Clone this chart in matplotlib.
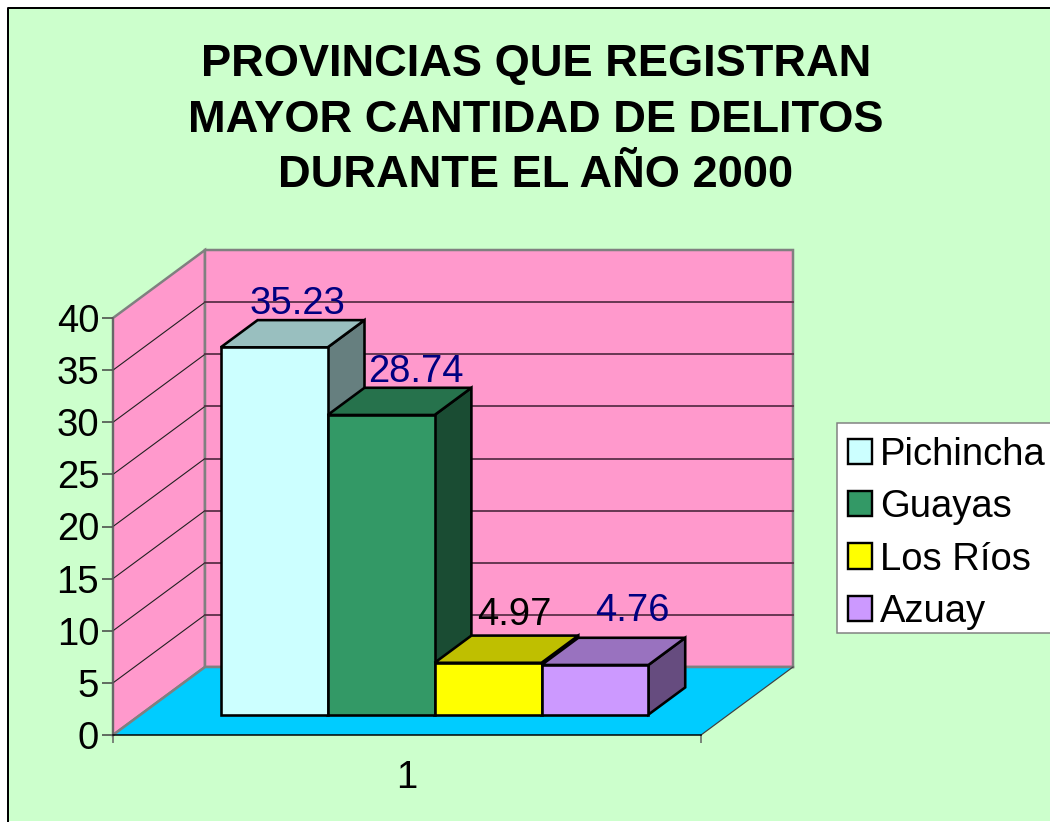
#!/usr/bin/env python3
"""Provincias con mas delitos en el 2000, 3D style column chart drawn by hand."""

import matplotlib
matplotlib.use("Agg")
import matplotlib.pyplot as plt
from matplotlib.lines import Line2D
from matplotlib.patches import Patch, Polygon, Rectangle

PROVINCES = ["Pichincha", "Guayas", "Los Ríos", "Azuay"]
VALUES = [35.23, 28.74, 4.97, 4.76]
VALUE_LABELS = ["35.23", "28.74", "4.97", "4.76"]
Y_TICKS = [0, 5, 10, 15, 20, 25, 30, 35, 40]
CATEGORY_LABEL = "1"
TITLE = "PROVINCIAS QUE REGISTRAN\nMAYOR CANTIDAD DE DELITOS\nDURANTE EL AÑO 2000"

FRONT = ["#CCFFFF", "#339966", "#FFFF00", "#CC99FF"]
TOP = ["#99BFBF", "#26724C", "#BFBF00", "#9972BF"]
SIDE = ["#667F7F", "#1A4C33", "#7F7F00", "#664C7F"]
LABEL_COLORS = ["#000080", "#000080", "#000000", "#000080"]
# pixels from the middle of each bar's top face, labels were moved by hand in the original
LABEL_OFFSETS = [(5, 30), (16, 29), (8, 34), (19, 40)]

BG = "#CCFFCC"
WALL = "#FF99CC"
FLOOR = "#00CCFF"
WALL_EDGE = "#808080"

W, H, DPI = 1050, 823, 100
PX = 72 / DPI
FONT_SIZE = 27.5

# one unit of depth in data units of the axes
DEPTH_X = 92 / 588
DEPTH_Y = 68 / (417 / 40)
BAR_W = 1 / 5.5
GAP = 0.75 * BAR_W
D0, D1 = 0.3, 0.7

plt.rcParams["font.family"] = ["Liberation Sans", "DejaVu Sans"]


def proj(x, v, d=0.0):
    return (x + d * DEPTH_X, v + d * DEPTH_Y)


def poly(ax, pts, z, **kw):
    ax.add_patch(Polygon(pts, closed=True, clip_on=False, zorder=z, joinstyle="miter", **kw))


fig = plt.figure(figsize=(W / DPI, H / DPI), dpi=DPI, facecolor="white")
fig.add_artist(Rectangle((7.5 / W, 2 / H), 1.1, 1 - 9.5 / H, transform=fig.transFigure,
                         facecolor=BG, edgecolor="none", zorder=-5))
# chart frame only shows on the top and left, the crop cuts the other two sides
fig.add_artist(Line2D([7.5 / W, 7.5 / W, 1], [2 / H, (H - 7.5) / H, (H - 7.5) / H], transform=fig.transFigure,
                      color="black", lw=2 * PX, zorder=-4))

ax = fig.add_axes([113 / W, (H - 735) / H, 588 / W, 417 / H])
ax.patch.set_visible(False)
ax.set_xlim(0, 1)
ax.set_ylim(0, 40)

top = Y_TICKS[-1]
wall_kw = dict(facecolor=WALL, edgecolor=WALL_EDGE, linewidth=2.5 * PX)
poly(ax, [proj(0, 0), proj(0, 0, 1), proj(0, top, 1), proj(0, top)], 1, **wall_kw)
poly(ax, [proj(0, 0, 1), proj(1, 0, 1), proj(1, top, 1), proj(0, top, 1)], 1, **wall_kw)
poly(ax, [proj(0, 0), proj(1, 0), proj(1, 0, 1), proj(0, 0, 1)], 1.5, facecolor=FLOOR, edgecolor="none")

# redraw the wall foot on top of the floor
ax.plot(*zip(proj(0, 0), proj(0, 0, 1), proj(1, 0, 1)), color=WALL_EDGE, lw=2.5 * PX, clip_on=False, zorder=1.6)
ax.plot(*zip(proj(1, 0), proj(1, 0, 1)), color="#404040", lw=1.2 * PX, clip_on=False, zorder=1.6)

for t in Y_TICKS[1:-1]:
    ax.plot(*zip(proj(0, t), proj(0, t, 1)), color="#202020", lw=1.1 * PX, clip_on=False, zorder=2)
    ax.plot(*zip(proj(0, t, 1), proj(1, t, 1)), color="#5A3048", lw=1.8 * PX, clip_on=False, zorder=2)

edge = dict(edgecolor="black", linewidth=2.6 * PX)
for i, val in enumerate(VALUES):
    x0 = GAP + i * BAR_W
    x1 = x0 + BAR_W
    z = 3 + i
    poly(ax, [proj(x1, 0, D0), proj(x1, 0, D1), proj(x1, val, D1), proj(x1, val, D0)], z, facecolor=SIDE[i], **edge)
    poly(ax, [proj(x0, val, D0), proj(x1, val, D0), proj(x1, val, D1), proj(x0, val, D1)], z, facecolor=TOP[i], **edge)
    poly(ax, [proj(x0, 0, D0), proj(x1, 0, D0), proj(x1, val, D0), proj(x0, val, D0)], z, facecolor=FRONT[i], **edge)

for i, val in enumerate(VALUES):
    ax.annotate(VALUE_LABELS[i], xy=proj(GAP + (i + 0.5) * BAR_W, val, 0.5), xytext=LABEL_OFFSETS[i],
                textcoords="offset pixels", ha="center", va="center", fontsize=FONT_SIZE,
                color=LABEL_COLORS[i], annotation_clip=False, zorder=10)

for name in ("top", "right"):
    ax.spines[name].set_visible(False)
ax.spines["left"].set_color("#606060")
ax.spines["left"].set_linewidth(1.5 * PX)
ax.spines["bottom"].set_color("black")
ax.spines["bottom"].set_linewidth(1.5 * PX)
ax.spines["left"].set_zorder(2.5)
ax.spines["bottom"].set_zorder(2.5)

ax.set_yticks(Y_TICKS)
ax.tick_params(axis="y", length=11 * PX, width=1.5 * PX, color="#404040", labelsize=FONT_SIZE, pad=2)
ax.set_xticks([0, 1])
ax.set_xticklabels([])
ax.tick_params(axis="x", which="major", length=8 * PX, width=1.5 * PX, color="#606060")
ax.set_xticks([0.5], minor=True)
ax.set_xticklabels([CATEGORY_LABEL], minor=True)
ax.tick_params(axis="x", which="minor", length=0, labelsize=FONT_SIZE, pad=18)

fig.text(536 / W, (H - 120) / H, TITLE, ha="center", va="center", fontsize=32.6,
         fontweight="bold", linespacing=1.445)

# legend box runs off the right edge, so it is drawn apart from the legend entries
fig.add_artist(Rectangle((837 / W, (H - 633) / H), 230 / W, 210 / H, transform=fig.transFigure,
                         facecolor="white", edgecolor="#808080", linewidth=1.5 * PX))
handles = [Patch(facecolor=c, edgecolor="black", linewidth=2.4 * PX) for c in FRONT]
leg = fig.legend(handles, PROVINCES, loc="upper left", bbox_to_anchor=(837 / W, (H - 426) / H),
                 bbox_transform=fig.transFigure, fontsize=FONT_SIZE, frameon=False, borderaxespad=0,
                 handlelength=0.64, handleheight=0.64, handletextpad=0.2,
                 labelspacing=0.43, borderpad=0.28)

fig.savefig("out.png", dpi=DPI, facecolor=fig.get_facecolor())
